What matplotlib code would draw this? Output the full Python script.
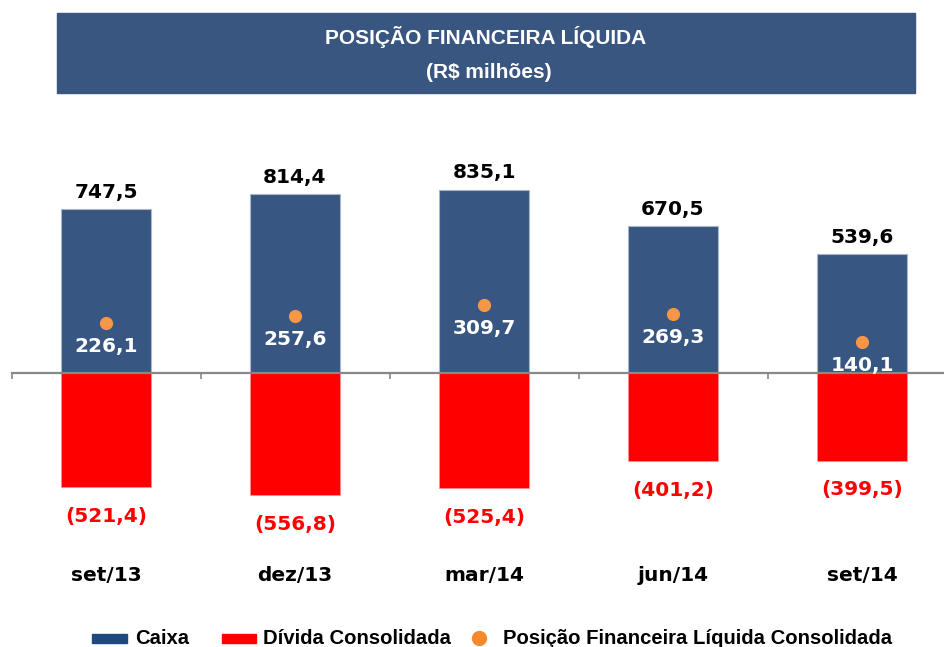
import numpy as np
import matplotlib
matplotlib.use('Agg')
import matplotlib.pyplot as plt
from matplotlib.patches import Rectangle, Circle

# data (R$ milhoes)
periodos = ['set/13', 'dez/13', 'mar/14', 'jun/14', 'set/14']
caixa = [747.5, 814.4, 835.1, 670.5, 539.6]
divida = [-521.4, -556.8, -525.4, -401.2, -399.5]
posicao_liquida = [226.1, 257.6, 309.7, 269.3, 140.1]
legenda = ['Caixa', 'Dívida Consolidada', 'Posição Financeira Líquida Consolidada']

azul = '#385682'
vermelho = '#FF0000'
laranja = '#F79646'

def fmt(v):
    s = '{:.1f}'.format(abs(v)).replace('.', ',')
    return '({})'.format(s) if v < 0 else s

sans = ['Liberation Sans', 'DejaVu Sans']
label_font = 'DejaVu Sans'

fig = plt.figure(figsize=(9.44, 6.47), dpi=100)
W, H = 944, 647

# title banner
fig.patches.append(Rectangle((57 / W, 1 - 93 / H), 858 / W, 80 / H,
                             transform=fig.transFigure, color='#38567F', zorder=0))
fig.text(486 / W, 1 - 37 / H, 'POSIÇÃO FINANCEIRA LÍQUIDA', color='white',
         ha='center', va='center', fontsize=15, fontweight='bold', family=sans)
fig.text(489 / W, 1 - 72 / H, '(R$ milhões)', color='white',
         ha='center', va='center', fontsize=15, fontweight='bold', family=sans)

# axes: categories from x=11.5px to 956.5px, y from 110px to 600px
ax = fig.add_axes([11.5 / W, 1 - 600 / H, 945 / W, 490 / H])
x = np.arange(len(periodos))
largura = 0.476

ax.bar(x, caixa, largura, color=azul, edgecolor='#A9B6CA', linewidth=0.8, zorder=2)
ax.bar(x, divida, largura, color=vermelho, edgecolor='#FF9090', linewidth=0.6, zorder=2)
ax.scatter(x, posicao_liquida, s=72, color=laranja, zorder=4)

ax.set_xlim(-0.5, len(periodos) - 0.5)
ax.set_ylim(-1035, 1198)

for s in ['top', 'right', 'left']:
    ax.spines[s].set_visible(False)
ax.spines['bottom'].set_position(('data', 0))
ax.spines['bottom'].set_color('#888888')
ax.spines['bottom'].set_linewidth(1.6)
ax.spines['bottom'].set_zorder(3)
ax.set_yticks([])
ax.set_xticks([])
ax.set_xticks(np.arange(-0.5, len(periodos)), minor=True)
ax.tick_params(axis='x', which='minor', length=4, width=1.2, color='#888888',
               direction='out', labelbottom=False)

for xi, c, d, p, per in zip(x, caixa, divida, posicao_liquida, periodos):
    ax.annotate(fmt(c), (xi, c), xytext=(0, 12), textcoords='offset points',
                ha='center', va='center', fontsize=14.5, fontweight='bold',
                family=label_font, color='black')
    ax.annotate(fmt(d), (xi, d), xytext=(0, -21), textcoords='offset points',
                ha='center', va='center', fontsize=14.5, fontweight='bold',
                family=label_font, color=vermelho)
    ax.annotate(fmt(p), (xi, p), xytext=(0, -17), textcoords='offset points',
                ha='center', va='center', fontsize=14.5, fontweight='bold',
                family=label_font, color='white', zorder=5)
    ax.annotate(per, (xi, 0), xytext=(0, -146), textcoords='offset points',
                ha='center', va='center', fontsize=14.5, fontweight='bold',
                family=label_font, color='black')

# legend drawn by hand to match the original spacing
ly = 1 - 638 / H
fig.patches.append(Rectangle((92 / W, 1 - 643 / H), 35 / W, 9 / H,
                             transform=fig.transFigure, color='#1F497D'))
fig.patches.append(Rectangle((222 / W, 1 - 643 / H), 34 / W, 9 / H,
                             transform=fig.transFigure, color=vermelho))
fig.lines.append(plt.Line2D([479 / W], [ly], marker='o', markersize=10,
                            color='#F58A2A', transform=fig.transFigure))
for xt, nome in zip([135, 263, 503], legenda):
    fig.text(xt / W, ly, nome, ha='left', va='center', fontsize=14.6,
             fontweight='bold', family=sans, color='black')

fig.savefig('out.png', dpi=100)
